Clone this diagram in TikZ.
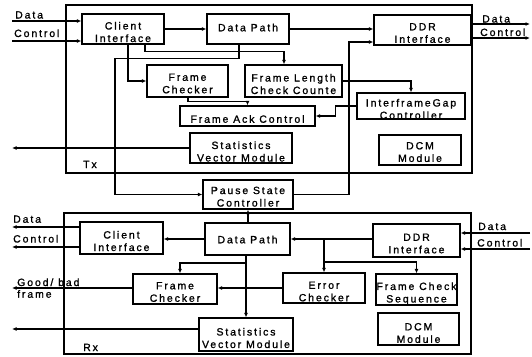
\documentclass[tikz,border=0pt]{standalone}
\usepackage{fontspec}
\setmainfont{Liberation Sans}[LetterSpace=18,FakeBold=1.2]
\usetikzlibrary{arrows.meta}
\newcommand\bx[6]{%
  \node[box,minimum width=#3pt,minimum height=#4pt] (#1) at (#2) {};
  \node[lbl,align=center] (#1t) at ([yshift=-#5pt]#1.center) {#6};}
\begin{document}
\begin{tikzpicture}[x=1pt,y=-1pt,font=\fontsize{10.5}{12.5}\selectfont,
  box/.style={draw,line width=1.1pt,inner sep=0pt},
  frame/.style={draw,line width=1.3pt,inner sep=0pt},
  arr/.style={line width=1.2pt,-{Latex[length=4.5pt,width=3.8pt]}},
  lbl/.style={inner sep=0pt}]
\fill[white] (0,0) rectangle (532,356);
\useasboundingbox (0,0) rectangle (532,356);
% ---------------- Tx ----------------
\node[frame,minimum width=406pt,minimum height=168pt] (tx) at (269,89) {};
\bx{ciT}{123,29}{82}{30}{3}{Client\\Interface}
\bx{dpT}{248,29}{82}{30}{-1.5}{Data Path}
\bx{ddrT}{422.5,30}{97}{30}{3}{DDR\\Interface}
\bx{fcT}{187.5,81}{81}{32}{2.5}{Frame\\Checker}
\bx{flT}{293.5,81}{97}{32}{3}{Frame Length\\Check Counte}
\bx{fac}{247.5,116}{135}{20}{3}{Frame Ack Control}
\bx{ifg}{411,106}{108}{26}{3}{InterframeGap\\Controller}
\bx{svT}{241,148}{102}{30}{3.5}{Statistics\\Vector Module}
\bx{dcmT}{420,150}{82}{30}{2}{DCM\\Module}
\bx{ps}{248,194.5}{90}{29}{2.2}{Pause State\\Controller}
\node[lbl,anchor=base west] (txl) at (83,168) {Tx};
% inputs
\coordinate (dinT) at (12,21);
\coordinate (cinT) at (12,41);
\draw[arr] (dinT) -- (dinT -| ciT.west);
\draw[arr] (cinT) -- (cinT -| ciT.west);
\node[lbl,anchor=base west] at (15,18.5) {Data};
\node[lbl,anchor=base west] at (14,37) {Control};
% internal
\draw[arr] (ciT.east) -- (ciT.east -| dpT.west);
\draw[arr] ([xshift=5pt]ciT.south) |- (fcT.west);
\draw[arr] ([xshift=22pt]ciT.south) -- ++(0,7) -| ([xshift=-9.5pt]flT.north);
\draw[arr] ([xshift=-9pt]dpT.south) -- ++(0,14) -| (115,120) |- (ps.west);
\draw[arr] ([xshift=0.5pt]fcT.south) -- ++(0,4) -| (fac.north);
\draw[arr] (flT.east) -| (ifg.north);
\draw[arr] (ifg.west) -- ++(-21,0) |- (fac.east);
\draw[arr] (dpT.east) -- (dpT.east -| ddrT.west);
\draw[arr] (ps.east) -| (349,120) |- ([yshift=-12pt]ddrT.west);
% outputs
\coordinate (doT) at (530,24);
\coordinate (coT) at (530,38);
\draw[arr] (doT -| ddrT.east) -- (doT);
\draw[arr] (coT -| ddrT.east) -- (coT);
\node[lbl,anchor=base west] at (482,22.5) {Data};
\node[lbl,anchor=base west] at (480,36) {Control};
\coordinate (svoT) at (12,148);
\draw[arr] (svT.west) -- (svoT);
% ---------------- Rx ----------------
\node[frame,minimum width=407pt,minimum height=141pt] (rx) at (267.5,283.5) {};
\bx{ciR}{121.5,238}{83}{32}{3}{Client\\Interface}
\bx{dpR}{247.5,239}{85}{32}{0.5}{Data Path}
\bx{ddrR}{416.5,240.5}{87}{33}{3}{DDR\\Interface}
\bx{fcR}{175,289}{84}{30}{3}{Frame\\Checker}
\bx{ec}{324,288}{82}{30}{3.5}{Error\\Checker}
\bx{fcs}{416.5,289.5}{81}{31}{4}{Frame Check\\Sequence}
\bx{dcmR}{418.5,329}{81}{32}{4}{DCM\\Module}
\bx{svR}{246,334.5}{94}{33}{3.5}{Statistics\\Vector Module}
\node[lbl,anchor=base west] (rxl) at (83,351) {Rx};
% inputs
\coordinate (diR) at (530,233);
\coordinate (ciRin) at (530,249);
\draw[arr] (diR) -- (diR -| ddrR.east);
\draw[arr] (ciRin) -- (ciRin -| ddrR.east);
\node[lbl,anchor=base west] at (478,230) {Data};
\node[lbl,anchor=base west] at (477,246.5) {Control};
% internal
\draw[arr] (ddrR.west |- dpR.east) -- (dpR.east);
\draw[arr] (dpR.west) -- (dpR.west -| ciR.east);
\draw[arr] (ec.north |- dpR.east) -- (ec.north);
\draw[arr] (324,262) -| (fcs.north);
\draw[arr] (ec.west) -- (ec.west -| fcR.east);
\draw[arr] (svR.north |- dpR.south) -- (svR.north);
\draw[arr] (246,263) -| ([xshift=5pt]fcR.north);
\draw[arr] (ps.south |- dpR.north) -- (ps.south);
% outputs
\coordinate (doR) at (12,227);
\coordinate (coR) at (12,247);
\draw[arr] (doR -| ciR.west) -- (doR);
\draw[arr] (coR -| ciR.west) -- (coR);
\node[lbl,anchor=base west] at (13,222.7) {Data};
\node[lbl,anchor=base west] at (13,242.5) {Control};
\coordinate (gbo) at (12,288);
\draw[arr] (fcR.west |- gbo) -- (gbo);
\node[lbl,anchor=base west] at (17,286) {Good/ bad};
\node[lbl,anchor=base west] at (17,297.7) {frame};
\coordinate (svoR) at (12,329);
\draw[arr] (svR.west |- svoR) -- (svoR);
\end{tikzpicture}
\end{document}
